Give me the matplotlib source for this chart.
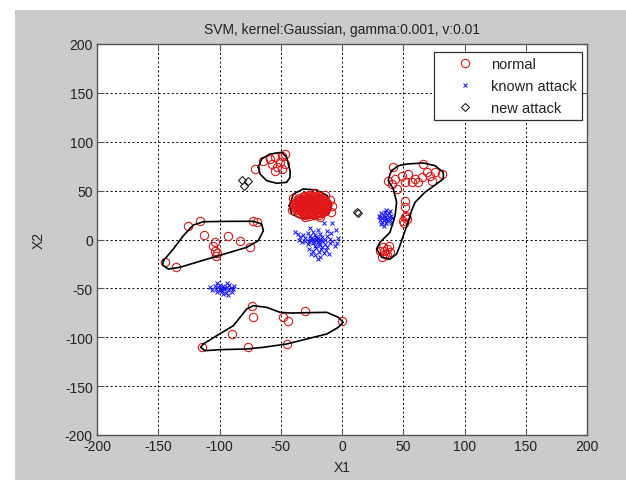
import matplotlib
matplotlib.use("Agg")
import matplotlib.pyplot as plt
from matplotlib.patches import Rectangle

plt.rcParams['font.family'] = ['Liberation Sans', 'DejaVu Sans']
plt.rcParams['axes.unicode_minus'] = False

title = "SVM, kernel:Gaussian, gamma:0.001, v:0.01"
ticks = [-200, -150, -100, -50, 0, 50, 100, 150, 200]
legend_labels = ["normal", "known attack", "new attack"]

# ---- normal samples (red circles) ----
normal_left = [(-125.7, 13.8), (-116, 19), (-72.7, 19), (-69.4, 18), (-113, 4.6), (-93, 3.6),
               (-83, -1.5), (-75, -7.7), (-103.7, -2.5), (-103.7, -11.7), (-103, -17),
               (-105, -7), (-102, -14), (-144.5, -23), (-135.5, -28)]
normal_top = [(-71, 72.1), (-64.2, 80.6), (-58.8, 82.4), (-54.7, 84.1), (-49.2, 85.8),
              (-46.5, 87.5), (-57.4, 77.2), (-53.3, 73.9), (-50.6, 79), (-49.2, 72.1),
              (-54.7, 70.4), (-46.5, 77.2)]
normal_bottom = [(-73.7, -68.3), (-72.4, -79.6), (-90.1, -96.7), (-114.6, -110.3),
                 (-76.5, -110.3), (-48, -79.6), (-43.9, -83.7), (-30.2, -72.8),
                 (-0.3, -83.7), (-45.2, -106.9)]
normal_right = [(41.9, 73.9), (48.7, 65.3), (54.1, 67), (59.6, 62), (65, 63.6), (69.1, 68.7),
                (71.8, 65.3), (66.4, 77.2), (76, 68.7), (81.4, 67), (37.8, 60.2), (40.5, 56.8),
                (44.6, 51.7), (43.3, 62), (51.4, 58.5), (56.8, 58.5), (62.2, 58.5), (73.1, 60.2),
                (51.4, 39.7), (51.4, 33), (51.4, 22.7), (50, 19.3), (53, 21), (52, 24), (50.5, 17),
                (33.7, -8), (36.5, -9.7), (31, -11.4), (35.1, -14.8), (32.4, -18.2),
                (39.2, -13), (38, -6.5), (34, -12), (37, -16)]
normal_blob = [(-31, 45), (-27, 45.5), (-23, 45), (-19, 44.5),
               (-35, 42.5), (-32, 43), (-29, 42), (-26, 42.5), (-23, 43), (-20, 42), (-17, 42.5),
               (-37, 40), (-34.5, 40.5), (-31.5, 39.5), (-28.5, 40), (-25.5, 40.5), (-22.5, 39.5),
               (-19.5, 40), (-16.5, 40.5), (-14, 39.5),
               (-38.5, 37.5), (-36, 37), (-33, 38), (-30, 37.5), (-27, 37), (-24, 38), (-21, 37.5),
               (-18, 37), (-15, 38), (-12.5, 37.5),
               (-39, 35), (-36.5, 35.5), (-33.5, 34.5), (-30.5, 35), (-27.5, 35.5), (-24.5, 34.5),
               (-21.5, 35), (-18.5, 35.5), (-15.5, 34.5), (-12.5, 35),
               (-38.5, 32.5), (-36, 32), (-33, 33), (-30, 32.5), (-27, 32), (-24, 33), (-21, 32.5),
               (-18, 32), (-15, 33), (-12.5, 32.5),
               (-37, 30), (-34, 30.5), (-31, 29.5), (-28, 30), (-25, 30.5), (-22, 29.5), (-19, 30),
               (-16, 30.5), (-13.5, 29.5),
               (-35, 27.5), (-32, 27), (-29, 28), (-26, 27.5), (-23, 27), (-20, 28), (-17, 27.5),
               (-31, 25), (-27, 24.5), (-23, 25), (-19, 25.5),
               (-10, 40), (-8, 34), (-9, 28), (-41, 30), (-40, 42), (-22, 48), (-14, 46),
               (-30, 23), (-18, 23),
               (-29, 44), (-25, 44), (-21, 43.5), (-33.5, 41.5), (-30.5, 41), (-27.5, 41.5),
               (-24.5, 41), (-21.5, 41.5), (-18.5, 41), (-15.5, 41.5), (-36, 39), (-33, 39),
               (-30, 38.5), (-27, 39), (-24, 38.5), (-21, 39), (-18, 38.5), (-15, 39), (-37.5, 36),
               (-34.5, 36.5), (-31.5, 36), (-28.5, 36.5), (-25.5, 36), (-22.5, 36.5), (-19.5, 36),
               (-16.5, 36.5), (-13.5, 36), (-37.5, 33.5), (-34.5, 33.5), (-31.5, 34), (-28.5, 33.5),
               (-25.5, 34), (-22.5, 33.5), (-19.5, 34), (-16.5, 33.5), (-13.5, 34), (-35.5, 31),
               (-32.5, 31.5), (-29.5, 31), (-26.5, 31.5), (-23.5, 31), (-20.5, 31.5), (-17.5, 31),
               (-14.5, 31.5), (-33.5, 29), (-30.5, 28.5), (-27.5, 29), (-24.5, 28.5), (-21.5, 29),
               (-18.5, 28.5), (-15.5, 28), (-29, 26), (-25, 26.5), (-21, 26)]

# ---- known attack samples (blue crosses) ----
known_main = [(-38, 8), (-36, 6), (-34, 3), (-32, 5), (-30, 2), (-28, 7), (-26, 4), (-24, 1),
              (-22, 5), (-20, 2), (-18, 6), (-16, 3), (-14, 0), (-12, 4), (-10, 1), (-8, -2),
              (-15, 17), (-8, 17), (-5, 10), (-4, -4), (-30, -2), (-28, -5), (-26, -1), (-24, -4),
              (-22, -7), (-20, -3), (-18, -6), (-16, -2), (-14, -5), (-12, -8), (-10, -4), (-6, -7),
              (-27, -10), (-24, -12), (-21, -9), (-19, -13), (-17, -10), (-15, -14), (-13, -11),
              (-22, -16), (-18, -18), (-25, -15), (-11, -15), (-20, -20), (-23, 0), (-21, -1),
              (-19, 0), (-17, -1), (-21, 3), (-19, -5), (-23, -3), (-25, 2), (-27, -3), (-16, -8),
              (-24, 8), (-20, 10), (-26, 12), (-33, -3), (-35, 0), (-12, 9), (-3, 2), (-9, 7)]
known_left = [(-108, -49), (-106, -52), (-104, -48), (-103, -51), (-102, -54), (-101, -49),
              (-100, -52), (-99, -50), (-98, -53), (-97, -48), (-96, -51), (-95, -55), (-94, -49),
              (-93, -52), (-92, -47), (-91, -50), (-90, -54), (-89, -51), (-88, -48), (-100, -47),
              (-97, -56), (-94, -45), (-102, -45), (-96, -50), (-99, -52), (-93, -57)]
known_right = [(30, 24), (31, 20), (32, 27), (33, 22), (33, 18), (34, 25), (34, 20), (35, 28),
               (35, 23), (36, 17), (36, 21), (37, 25), (37, 19), (38, 23), (38, 27), (39, 20),
               (40, 24), (40, 17), (41, 22), (32, 16), (36, 30), (39, 29), (34, 14), (31, 23)]

# ---- new attack samples (black diamonds) ----
new_attack = [(-82, 61), (-77, 60), (-80, 55), (12, 28), (13, 27)]

# ---- decision boundaries ----
boundary_left = [(-145.8, -21.7), (-137.7, -9.7), (-129.5, 3.9), (-121.4, 14.8), (-113.2, 18.2),
                 (-88.7, 18.6), (-72.4, 18.6), (-65.6, 15.9), (-64.2, 9), (-68.3, -1.2),
                 (-77.8, -8), (-91.4, -13.1), (-105, -18.2), (-118.7, -23.3), (-132.2, -28.4),
                 (-141.8, -30.2), (-146.4, -26), (-145.8, -21.7)]
boundary_top = [(-68.3, 73.9), (-65.6, 82.4), (-58.8, 87.5), (-49.2, 89.2), (-45.2, 84.1),
                (-42.4, 70.4), (-42.4, 63.6), (-45.2, 58.5), (-53.3, 57.5), (-61.5, 60.2),
                (-66.9, 67), (-68.3, 73.9)]
boundary_blob = [(-43, 34.6), (-39.7, 46.5), (-31.6, 51.7), (-20.7, 50.6), (-12, 44.8),
                 (-8.4, 34.6), (-11.2, 26.1), (-20.7, 22), (-34.3, 22), (-41.1, 26.1), (-43, 34.6)]
boundary_bottom = [(-113.2, -106.9), (-102.3, -98.4), (-88.7, -88.2), (-77.8, -71.1),
                   (-72.4, -67.7), (-61.5, -69.4), (-50.6, -74.5), (-42.4, -75.2), (-12.5, -74.5),
                   (-3, -79.6), (1, -84.7), (-3, -89.8), (-12.5, -96.7), (-28.9, -101.8),
                   (-45.2, -106.9), (-64.2, -110.3), (-77.8, -112), (-99.7, -112.7),
                   (-111.8, -113.7), (-115.4, -110.3), (-113.2, -106.9)]
boundary_right = [(40.5, 70.4), (46, 75.5), (52.8, 77.2), (66.4, 78.3), (76, 75.5), (82.7, 68.7),
                  (82.7, 62), (77.2, 56.8), (67.7, 48.3), (59.6, 38), (56.8, 29.5), (54, 17.6),
                  (50, 3.9), (47.3, -6.3), (44.6, -14.8), (39.2, -20), (32.4, -18.2), (28.2, -9.7),
                  (31, -2.9), (39.2, 7.4), (43.3, 24.3), (44.6, 38), (41.9, 51.7), (37.8, 60.2),
                  (39.2, 67), (40.5, 70.4)]

W, H = 626, 481
fig = plt.figure(figsize=(W / 100, H / 100), dpi=100, facecolor='white')
fig.patches.append(Rectangle((15 / W, 0), 1, (H - 11) / H, transform=fig.transFigure,
                             facecolor='#cbcbcb', edgecolor='none', zorder=-10))
ax = fig.add_axes([97 / W, (H - 436) / H, 490 / W, 391 / H])
ax.set_facecolor('white')

def xs(pts):
    return [p[0] for p in pts]

def ys(pts):
    return [p[1] for p in pts]

normal = normal_left + normal_top + normal_bottom + normal_right + normal_blob
known = known_main + known_left + known_right

red = '#e01818'
ax.plot(xs(normal), ys(normal), 'o', mfc='none', mec=red, mew=0.8, ms=6, ls='none',
        label=legend_labels[0], zorder=3)
ax.plot(xs(known), ys(known), 'x', color='#1010ff', mew=0.7, ms=3.5, ls='none',
        label=legend_labels[1], zorder=3)
ax.plot(xs(new_attack), ys(new_attack), 'D', mfc='none', mec='#202020', mew=0.8, ms=4.5,
        ls='none', label=legend_labels[2], zorder=3)

for b in (boundary_left, boundary_top, boundary_bottom, boundary_right):
    ax.plot(xs(b), ys(b), '-', color='black', lw=1.2, zorder=4)
ax.plot(xs(boundary_blob), ys(boundary_blob), '-', color='black', lw=1.2, zorder=2.5)

ax.set_xlim(-200, 200)
ax.set_ylim(-200, 200)
ax.set_xticks(ticks)
ax.set_yticks(ticks)
ax.tick_params(direction='in', top=True, right=True, length=5, width=0.8,
               labelsize=10, colors='#555555', labelcolor='#222222', pad=3)
ax.grid(True, color='black', linestyle=(0, (2, 2.5)), linewidth=0.7)
ax.set_axisbelow(True)
for s in ax.spines.values():
    s.set_color('#555555')
    s.set_linewidth(1.0)

ax.set_title(title, fontsize=10, color='#222222', pad=8)
ax.set_xlabel('X1', fontsize=10, color='#222222', labelpad=5)
ax.set_ylabel('X2', fontsize=10, color='#222222', labelpad=14)

leg = ax.legend(loc='upper right', bbox_to_anchor=(0.99, 0.98), borderaxespad=0,
                fontsize=10.5, frameon=True, fancybox=False, framealpha=1,
                edgecolor='#333333', handlelength=3.6, handletextpad=0.0,
                borderpad=0.35, labelspacing=0.55)
leg.get_frame().set_linewidth(0.9)
for t in leg.get_texts():
    t.set_color('#222222')

fig.savefig('out.png', dpi=100, facecolor='white')
